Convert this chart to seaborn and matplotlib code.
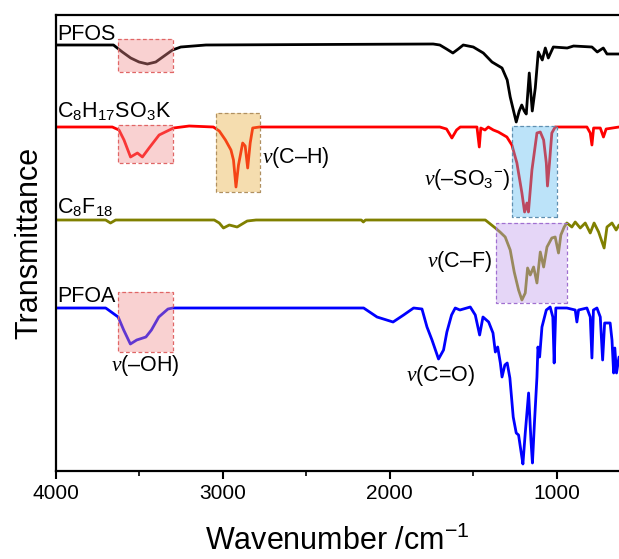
import numpy as np
import pandas as pd
import seaborn as sns
import matplotlib.pyplot as plt
from matplotlib.patches import Rectangle
from matplotlib.ticker import MultipleLocator

sns.set_style("ticks")
plt.rcParams['font.family'] = ['Liberation Sans', 'DejaVu Sans']
plt.rcParams['mathtext.fontset'] = 'custom'
plt.rcParams['mathtext.rm'] = 'Liberation Sans'
plt.rcParams['mathtext.it'] = 'Liberation Serif:italic'
plt.rcParams['mathtext.default'] = 'regular'
for k in ['text.color', 'axes.labelcolor', 'xtick.color', 'ytick.color', 'axes.edgecolor']:
    plt.rcParams[k] = 'black'

# spectra (offset transmittance, a.u.)
pfos_wn = [4000, 3653, 3600, 3550, 3500, 3450, 3400, 3350, 3300, 3250,
           3175, 3100, 1740, 1700, 1660, 1622, 1590, 1560, 1500, 1440,
           1388, 1328, 1297, 1279, 1243, 1225, 1210, 1195, 1183, 1165,
           1147, 1129, 1111, 1087, 1069, 1051, 1021, 938, 900, 790,
           758, 722, 700, 660, 628]
pfos_t = [426, 426, 419, 413, 409, 407, 409, 415, 421, 424,
          425, 426, 427, 426, 422, 418, 422, 426, 424, 418,
          409, 403, 391, 374, 349, 360, 366, 360, 357, 398,
          360, 383, 419, 411, 423, 413, 424, 423, 425, 424,
          419, 423, 417, 417, 417]

sulf_wn = [4000, 3660, 3620, 3590, 3551, 3510, 3480, 3440, 3380, 3294,
           3200, 3055, 3020, 2983, 2950, 2935, 2920, 2905, 2880, 2865,
           2850, 2835, 2820, 2780, 1700, 1660, 1628, 1600, 1578, 1478,
           1464, 1455, 1430, 1410, 1380, 1350, 1299, 1269, 1239, 1209,
           1193, 1179, 1170, 1149, 1119, 1099, 1079, 1063, 1056, 1044,
           1030, 1010, 820, 800, 790, 780, 740, 721, 705, 628]
sulf_t = [344, 344, 341, 331, 314, 318, 314, 323, 336, 343,
          345, 344, 340, 331, 321, 311, 284, 306, 328, 325,
          303, 328, 343, 344, 344, 342, 333, 341, 344, 344,
          324, 343, 341, 344, 341, 339, 334, 326, 308, 278,
          259, 268, 259, 301, 338, 339, 331, 308, 285, 308,
          338, 344, 344, 338, 326, 343, 343, 334, 342, 344]

c8f18_wn = [4000, 3700, 3671, 3640, 3050, 3020, 2995, 2960, 2913, 2853,
            2800, 2170, 2158, 2145, 1428, 1368, 1340, 1309, 1279, 1255,
            1229, 1209, 1189, 1175, 1159, 1139, 1119, 1099, 1079, 1059,
            1030, 1010, 990, 976, 956, 940, 910, 890, 860, 830,
            800, 777, 750, 717, 700, 670, 645, 628]
c8f18_t = [251, 251, 248, 251, 251, 248, 243, 246, 244, 250,
           251, 251, 249, 251, 251, 243, 239, 234, 221, 199,
           181, 171, 178, 203, 196, 204, 188, 219, 204, 224,
           233, 234, 218, 236, 244, 248, 244, 249, 243, 248,
           238, 248, 239, 223, 244, 248, 241, 246]

pfoa_wn = [4000, 3700, 3691, 3625, 3592, 3552, 3514, 3459, 3426, 3382,
           3327, 3298, 2156, 2076, 1980, 1917, 1857, 1807, 1777, 1747,
           1708, 1678, 1658, 1630, 1608, 1580, 1518, 1488, 1462, 1442,
           1408, 1382, 1368, 1354, 1338, 1328, 1311, 1297, 1281, 1261,
           1243, 1229, 1213, 1203, 1189, 1169, 1155, 1146, 1134, 1119,
           1113, 1103, 1089, 1063, 1040, 1024, 1016, 1006, 940, 890,
           880, 870, 820, 800, 790, 781, 760, 740, 726, 714,
           681, 670, 660, 653, 643, 628]
pfoa_t = [163, 163, 162, 154, 141, 127, 131, 134, 141, 154,
          162, 163, 163, 154, 149, 156, 163, 162, 144, 131,
          112, 121, 139, 156, 163, 161, 164, 156, 136, 154,
          149, 138, 119, 124, 108, 94, 106, 108, 93, 54,
          38, 36, 18, 7, 38, 78, 31, 8, 48, 94,
          124, 114, 144, 161, 164, 154, 108, 163, 163, 161,
          149, 161, 163, 154, 113, 161, 163, 154, 111, 148,
          148, 131, 98, 123, 98, 114]

names = ['PFOS', 'C$_8$H$_{17}$SO$_3$K', 'C$_8$F$_{18}$', 'PFOA']
colors = ['#000000', '#ff0000', '#808000', '#0000ff']
name_pos = [(3990, 431), (3990, 354), (3990, 258), (3990, 169)]

# highlighted regions: (wn_high, wn_low, t_low, t_high, face, edge)
boxes = [
    (3625, 3296, 399, 432, '#f28c8c', '#e06666'),
    (3625, 3296, 308, 346, '#f28c8c', '#e06666'),
    (3625, 3296, 119, 179, '#f28c8c', '#e06666'),
    (3039, 2778, 279, 358, '#e6ac39', '#b09060'),
    (1267, 1001, 254, 345, '#59b9f2', '#5f8fb0'),
    (1362, 940, 168, 248, '#bf99ec', '#a070d0'),
]

notes = [
    (2762, 314, r'$\mathit{\nu}$(C–H)', 'left'),
    (1279, 291, r'$\mathit{\nu}$(–SO$_3$$^{-}$)', 'right'),
    (1386, 209, r'$\mathit{\nu}$(C–F)', 'right'),
    (3462, 105, r'$\mathit{\nu}$(–OH)', 'center'),
    (1697, 95, r'$\mathit{\nu}$(C=O)', 'center'),
]

fig = plt.figure(figsize=(6.19, 5.59), dpi=100)
ax = fig.add_axes([55.5 / 619, 1 - 471 / 559, (619 - 55.5) / 619, 456 / 559])

spectra = [(pfos_wn, pfos_t), (sulf_wn, sulf_t), (c8f18_wn, c8f18_t), (pfoa_wn, pfoa_t)]
for (wn, t), c in zip(spectra, colors):
    df = pd.DataFrame({'wn': wn, 't': t})
    sns.lineplot(data=df, x='wn', y='t', color=c, lw=2.0, sort=False,
                 estimator=None, ax=ax, zorder=2, solid_joinstyle='round')

for x1, x2, y1, y2, fc, ec in boxes:
    ax.add_patch(Rectangle((x2, y1), x1 - x2, y2 - y1, facecolor=fc, alpha=0.4,
                           edgecolor='none', zorder=3))
    ax.add_patch(Rectangle((x2, y1), x1 - x2, y2 - y1, facecolor='none',
                           edgecolor=ec, lw=0.9, ls=(0, (3, 2)), zorder=4))

for (x, y), n in zip(name_pos, names):
    ax.text(x, y, n, fontsize=15.5, ha='left', va='baseline')

for x, y, s, ha in notes:
    ax.text(x, y, s, fontsize=15.5, ha=ha, va='center')

ax.set_xlim(4000, 628)
ax.set_ylim(0, 456)
ax.xaxis.set_major_locator(MultipleLocator(1000))
ax.xaxis.set_minor_locator(MultipleLocator(500))
ax.tick_params(axis='x', which='major', length=6, width=1.5, labelsize=15, direction='out')
ax.tick_params(axis='x', which='minor', length=3.5, width=1.2, direction='out')
ax.set_yticks([])
ax.spines['right'].set_visible(False)
for s in ['left', 'top', 'bottom']:
    ax.spines[s].set_linewidth(1.6)
ax.set_xlabel('Wavenumber /cm$^{-1}$', fontsize=22, labelpad=16)
ax.set_ylabel('Transmittance', fontsize=22, labelpad=8)

fig.savefig('out.png', dpi=100)
